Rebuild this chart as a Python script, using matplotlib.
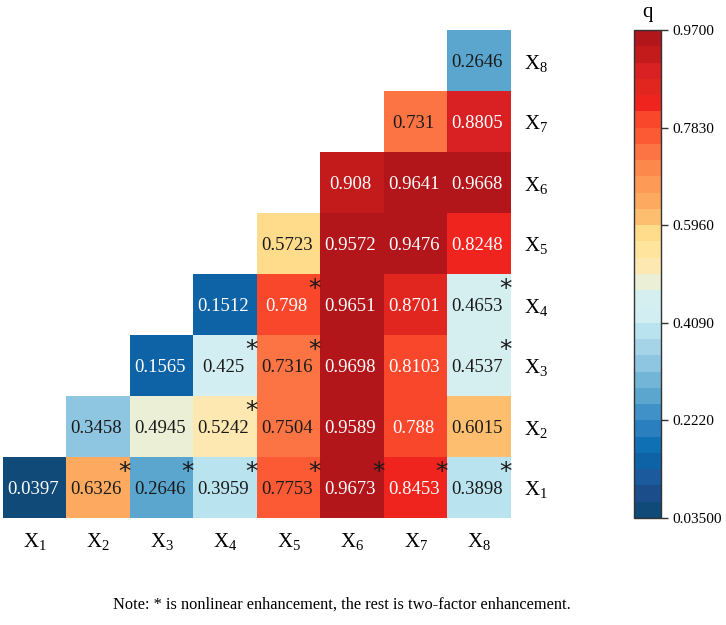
import numpy as np
import matplotlib
matplotlib.use('Agg')
import matplotlib.pyplot as plt
from matplotlib.colors import ListedColormap, Normalize

plt.rcParams['font.family'] = ['Liberation Serif', 'DejaVu Serif']
plt.rcParams['mathtext.fontset'] = 'custom'
plt.rcParams['mathtext.rm'] = 'Liberation Serif'
plt.rcParams['mathtext.it'] = 'Liberation Serif'

factors = ['X1', 'X2', 'X3', 'X4', 'X5', 'X6', 'X7', 'X8']

# q values, row Xi against column Xj (j >= i)
q_x1 = [0.0397, 0.6326, 0.2646, 0.3959, 0.7753, 0.9673, 0.8453, 0.3898]
q_x2 = [0.3458, 0.4945, 0.5242, 0.7504, 0.9589, 0.788, 0.6015]
q_x3 = [0.1565, 0.425, 0.7316, 0.9698, 0.8103, 0.4537]
q_x4 = [0.1512, 0.798, 0.9651, 0.8701, 0.4653]
q_x5 = [0.5723, 0.9572, 0.9476, 0.8248]
q_x6 = [0.908, 0.9641, 0.9668]
q_x7 = [0.731, 0.8805]
q_x8 = [0.2646]
rows = [q_x1, q_x2, q_x3, q_x4, q_x5, q_x6, q_x7, q_x8]

# nonlinear enhancement pairs (row, col), 0-based
nonlinear = [(0, 1), (0, 2), (0, 3), (0, 4), (0, 5), (0, 6), (0, 7),
             (1, 3), (2, 3), (2, 4), (2, 7), (3, 4), (3, 7)]

cbar_ticks = [0.035, 0.222, 0.409, 0.596, 0.783, 0.970]
cbar_labels = ['0.03500', '0.2220', '0.4090', '0.5960', '0.7830', '0.9700']

colors = ['#0f4a78', '#1a4d8a', '#1b5a9c', '#0e63a6', '#0f70b4', '#2a7fbf',
          '#4091c7', '#5aa6cf', '#72b5d7', '#8ec6e2', '#a5d3e8', '#b9e3ee',
          '#d3eef2', '#d5eef0', '#ebefd6', '#fde8b2', '#fee49d', '#fedc8c',
          '#fdbf6f', '#fda95f', '#fd9a55', '#fd884c', '#fc7443', '#fb5a35',
          '#f9472c', '#f0241f', '#e1261f', '#d92123', '#c31a1c', '#b2161a']
cmap = ListedColormap(colors)
norm = Normalize(vmin=0.035, vmax=0.970)

n = len(factors)
mat = np.full((n, n), np.nan)
for i, r in enumerate(rows):
    mat[i, i:] = r
mat = np.ma.masked_invalid(mat)

fig = plt.figure(figsize=(7.26, 6.25), dpi=100)
ax = fig.add_axes([3 / 726, 107 / 625, 508 / 726, 488 / 625])
im = ax.imshow(mat, cmap=cmap, norm=norm, origin='lower', aspect='auto',
               extent=(-0.5, n - 0.5, -0.5, n - 0.5))

for i, r in enumerate(rows):
    for k, v in enumerate(r):
        j = i + k
        tc = 'white' if (v > 0.783 or v < 0.2) else '#1a1a1a'
        ax.text(j - 0.03, i - 0.04, f'{v:g}', ha='center', va='center',
                fontsize=13.5, color=tc)
for (i, j) in nonlinear:
    ax.text(j + 0.41, i + 0.25, '*', ha='center', va='center', fontsize=18,
            color='#1a1a1a', family='DejaVu Sans')

labels = [r'X$_\mathrm{%s}$' % f[1:] for f in factors]
ax.set_xticks(range(n))
ax.set_xticklabels(labels, fontsize=15)
ax.set_yticks(range(n))
ax.set_yticklabels(labels, fontsize=15)
ax.yaxis.tick_right()
ax.tick_params(axis='both', length=0)
ax.tick_params(axis='x', pad=9)
ax.tick_params(axis='y', pad=9)
for s in ax.spines.values():
    s.set_visible(False)

cax = fig.add_axes([634 / 726, 107 / 625, 27 / 726, 488 / 625])
cb = fig.colorbar(im, cax=cax, ticks=cbar_ticks)
cb.ax.set_yticklabels(cbar_labels, fontsize=11)
cb.ax.tick_params(length=5, width=1, color='#333333')
cb.outline.set_edgecolor('#333333')
cb.outline.set_linewidth(1)
cax.set_title('q', fontsize=15, pad=9)

fig.text(342 / 726, 1 - 605 / 625,
         'Note: * is nonlinear enhancement, the rest is two-factor enhancement.',
         ha='center', va='center', fontsize=11.8)

fig.savefig('out.png', dpi=100)
